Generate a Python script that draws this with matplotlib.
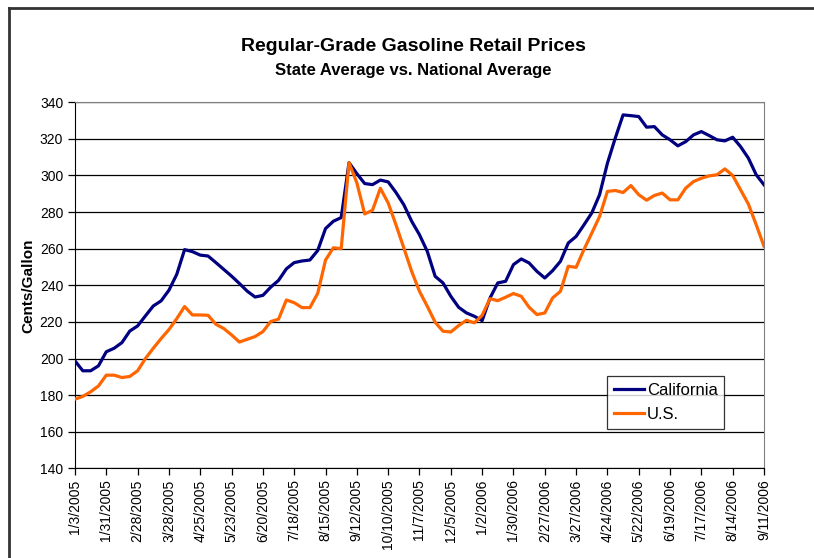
import matplotlib
matplotlib.use("Agg")
import matplotlib.pyplot as plt
import pandas as pd
from matplotlib.lines import Line2D

plt.rcParams["font.family"] = ["Liberation Sans", "DejaVu Sans"]

# Weekly prices, cents per gallon, week of 1/3/2005 through 9/11/2006
weeks = pd.date_range("2005-01-03", "2006-09-11", freq="7D")

california = [
    198.7, 193.3, 193.3, 196.0, 203.7, 205.6, 208.7, 215.0, 217.8, 223.3,
    228.7, 231.5, 237.3, 246.0, 259.5, 258.4, 256.5, 256.0, 252.4, 248.7,
    245.0, 241.0, 236.8, 233.6, 234.5, 239.0, 242.7, 249.0, 252.4, 253.3,
    253.8, 259.0, 271.0, 275.0, 277.0, 307.0, 301.0, 295.6, 295.0, 297.5,
    296.5, 290.7, 284.0, 275.0, 267.6, 258.5, 244.9, 241.3, 234.0, 228.0,
    224.9, 223.1, 220.7, 233.0, 241.3, 242.2, 251.3, 254.4, 252.2, 247.6,
    244.0, 248.0, 253.1, 263.1, 266.7, 273.0, 279.5, 289.5, 306.7, 320.4,
    333.1, 332.7, 332.2, 326.4, 326.7, 322.2, 319.5, 316.2, 318.5, 322.2,
    324.0, 321.8, 319.5, 318.9, 320.9, 315.8, 309.5, 300.4, 294.9,
]

us = [
    177.8, 179.3, 181.8, 185.0, 190.9, 190.9, 189.6, 190.2, 193.3, 200.0,
    205.6, 210.9, 215.8, 221.8, 228.4, 223.8, 223.8, 223.6, 218.7, 216.4,
    212.9, 209.0, 210.5, 212.0, 214.7, 220.2, 221.5, 232.0, 230.5, 227.8,
    227.8, 235.6, 253.8, 260.5, 260.0, 307.0, 296.0, 279.0, 281.0, 293.0,
    285.0, 273.0, 260.4, 247.6, 236.7, 228.5, 219.8, 214.9, 214.5, 218.0,
    220.9, 219.5, 223.6, 232.7, 231.6, 233.5, 235.5, 234.0, 228.0, 224.0,
    224.9, 233.1, 236.7, 250.4, 249.8, 259.5, 268.5, 277.6, 291.3, 291.8,
    290.7, 294.5, 289.5, 286.5, 289.1, 290.4, 286.7, 286.7, 293.1, 296.7,
    298.5, 299.8, 300.4, 303.6, 300.0, 292.2, 284.4, 273.1, 261.3,
]

fig = plt.figure(figsize=(8.14, 5.58), dpi=100)
ax = fig.add_axes([0.0921, 0.1607, 0.8465, 0.656])

x = list(range(len(weeks)))
ax.plot(x, california, color="#000080", linewidth=2.3, label="California",
        solid_joinstyle="round", zorder=3)
ax.plot(x, us, color="#FF6600", linewidth=2.3, label="U.S.",
        solid_joinstyle="round", zorder=3)

ax.set_xlim(0, len(weeks) - 1)
ax.set_ylim(140, 340)
ax.set_yticks(range(140, 341, 20))
ax.yaxis.grid(True, color="black", linewidth=0.9)
ax.set_axisbelow(True)

tick_pos = x[::4]
tick_labels = [f"{d.month}/{d.day}/{d.year}" for d in weeks[::4]]
ax.set_xticks(tick_pos)
ax.set_xticklabels(tick_labels, rotation=90, fontsize=10)
ax.tick_params(axis="y", labelsize=10, length=5, direction="out", width=0.9)
ax.tick_params(axis="x", length=5, direction="out", width=0.9, pad=3)

for side in ("top", "right"):
    ax.spines[side].set_color("#808080")
for side in ("left", "bottom"):
    ax.spines[side].set_color("black")

ax.set_ylabel("Cents/Gallon", fontsize=11, fontweight="bold")
ax.yaxis.set_label_coords(-0.057, 0.5)

leg = ax.legend(loc="lower left", bbox_to_anchor=(0.772, 0.107, 0.17, 0.159),
                mode="expand", fontsize=12, frameon=True, fancybox=False,
                handlelength=1.75, handletextpad=0.2, borderpad=0.45,
                labelspacing=0.5, borderaxespad=0)
leg.get_frame().set_edgecolor("black")
leg.get_frame().set_linewidth(0.9)

fig.text(0.508, 0.916, "Regular-Grade Gasoline Retail Prices",
         ha="center", va="center", fontsize=14, fontweight="bold")
fig.text(0.508, 0.873, "State Average vs. National Average",
         ha="center", va="center", fontsize=12, fontweight="bold")

# outer chart frame (left and top edges visible)
fig.add_artist(Line2D([0.011, 0.011], [-0.01, 0.986], color="#333333",
                      linewidth=2, transform=fig.transFigure))
fig.add_artist(Line2D([0.011, 1.01], [0.986, 0.986], color="#333333",
                      linewidth=2, transform=fig.transFigure))

fig.savefig("out.png", dpi=100)
